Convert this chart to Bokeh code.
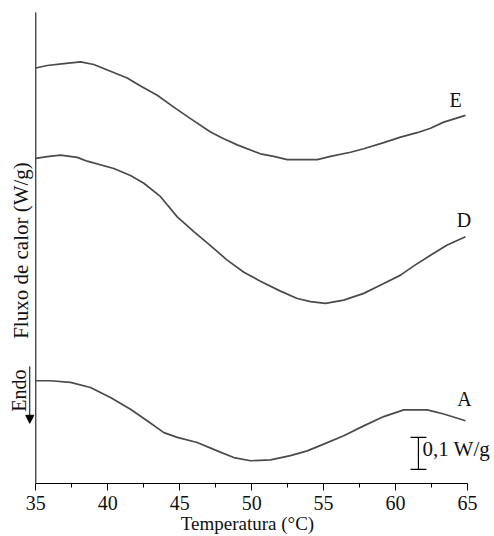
from bokeh.plotting import figure
from bokeh.models import Range1d, Label, Arrow, NormalHead, FixedTicker
from bokeh.embed import file_html
from bokeh.resources import INLINE

# Temperatura (°C) and heat flow (W/g, curves shifted vertically for display)
temp_E = [35.0, 35.79, 36.95, 38.11, 39.03, 40.19, 41.35, 42.28, 43.44, 44.59, 45.75, 47.14, 48.06, 49.0,
          50.61, 51.54, 52.47, 54.56, 55.48, 56.87, 57.79, 59.18, 60.35, 61.5, 62.43, 63.35, 64.86]
flux_E = [1.298, 1.306, 1.312, 1.317, 1.309, 1.288, 1.267, 1.242, 1.213, 1.176, 1.140, 1.098, 1.077, 1.058,
          1.030, 1.022, 1.012, 1.012, 1.022, 1.035, 1.046, 1.065, 1.082, 1.096, 1.110, 1.129, 1.150]

temp_D = [35.0, 35.79, 36.72, 37.88, 38.57, 40.42, 41.58, 42.51, 43.67, 44.83, 45.98, 47.14, 48.3, 49.46,
          50.61, 52.0, 53.17, 54.09, 55.13, 56.4, 57.79, 59.18, 60.35, 61.27, 62.43, 63.59, 64.86]
flux_D = [1.016, 1.021, 1.026, 1.019, 1.007, 0.984, 0.962, 0.938, 0.896, 0.833, 0.787, 0.743, 0.698, 0.660,
          0.632, 0.601, 0.578, 0.568, 0.563, 0.573, 0.594, 0.625, 0.651, 0.680, 0.713, 0.745, 0.771]

temp_A = [35.0, 36.02, 37.41, 38.80, 40.19, 41.58, 42.74, 43.9, 44.83, 46.22, 47.61, 48.76, 49.92, 51.31,
          52.7, 53.86, 55.01, 56.4, 57.79, 59.18, 60.57, 62.2, 63.35, 64.86]
flux_A = [0.321, 0.321, 0.316, 0.300, 0.269, 0.232, 0.196, 0.159, 0.144, 0.128, 0.102, 0.081, 0.071, 0.074,
          0.087, 0.102, 0.123, 0.149, 0.180, 0.209, 0.230, 0.230, 0.217, 0.196]

curve_names = ["E", "D", "A"]
label_x = [64.17, 64.76, 64.79]
label_y = [1.197, 0.823, 0.263]

x_ticks = [35, 40, 45, 50, 55, 60, 65]
x_minor = [37.5, 42.5, 47.5, 52.5, 57.5, 62.5]
X_MIN, X_MAX = 35, 65
Y_AXIS_TOP = 1.472

scale_x = 61.59
scale_y0 = 0.044
scale_len = 0.1
scale_text = "0,1 W/g"

FONT = "Liberation Serif"
LINE = "#4a4a4a"
TXT = "#111111"

p = figure(width=494, height=536, output_backend="svg", toolbar_location=None,
           x_range=Range1d(32.547, 66.877), y_range=Range1d(0, 1.509), y_axis_location=None,
           min_border_left=0, min_border_right=0, min_border_top=0, min_border_bottom=53)
p.outline_line_color = None
p.grid.visible = False
p.background_fill_color = "white"
p.border_fill_color = "white"

# y axis line (no ticks in the original)
p.segment(x0=[X_MIN], y0=[0], x1=[X_MIN], y1=[Y_AXIS_TOP], line_color="black", line_width=1)

for t, f in [(temp_E, flux_E), (temp_D, flux_D), (temp_A, flux_A)]:
    p.line(t, f, line_color=LINE, line_width=1.7, line_join="round")

for name, lx, ly in zip(curve_names, label_x, label_y):
    p.add_layout(Label(x=lx, y=ly, text=name, text_font=FONT, text_font_size="20px",
                       text_align="center", text_baseline="middle", text_color=TXT))

# x axis
xa = p.xaxis[0]
xa.bounds = (X_MIN, X_MAX)
xa.ticker = FixedTicker(ticks=x_ticks, minor_ticks=x_minor)
xa.major_tick_in = 0
xa.major_tick_out = 7
xa.minor_tick_in = 0
xa.minor_tick_out = 4
xa.major_label_standoff = 5
xa.major_label_text_font = FONT
xa.major_label_text_font_size = "20px"
xa.major_label_text_color = TXT
xa.axis_line_color = "black"
xa.major_tick_line_color = "black"
xa.minor_tick_line_color = "black"
xa.axis_label = "Temperatura (°C)"
xa.axis_label_text_font = FONT
xa.axis_label_text_font_size = "19px"
xa.axis_label_text_font_style = "normal"
xa.axis_label_text_color = TXT
xa.axis_label_standoff = 0

# y title
p.add_layout(Label(x=33.94, y=0.728, text="Fluxo de calor (W/g)", angle=1.5708, text_font=FONT,
                   text_font_size="21px", text_align="center", text_baseline="middle", text_color=TXT))

# Endo arrow
p.add_layout(Arrow(x_start=34.58, y_start=0.366, x_end=34.58, y_end=0.188, line_color="black", line_width=1,
                   end=NormalHead(size=8, fill_color="black", line_color="black")))
p.add_layout(Label(x=33.80, y=0.29, text="Endo", angle=1.5708, text_font=FONT, text_font_size="20px",
                   text_align="center", text_baseline="middle", text_color=TXT))

# scale bar
cap = 0.55
p.segment(x0=[scale_x, scale_x - cap, scale_x - cap], y0=[scale_y0, scale_y0, scale_y0 + scale_len],
          x1=[scale_x, scale_x + cap, scale_x + cap], y1=[scale_y0 + scale_len, scale_y0, scale_y0 + scale_len],
          line_color="black", line_width=1.2)
p.add_layout(Label(x=scale_x + 0.28, y=scale_y0 + scale_len / 2 + 0.015, text=scale_text, text_font=FONT,
                   text_font_size="21px", text_align="left", text_baseline="middle", text_color=TXT))

open("out.html", "w").write(file_html(p, INLINE))
